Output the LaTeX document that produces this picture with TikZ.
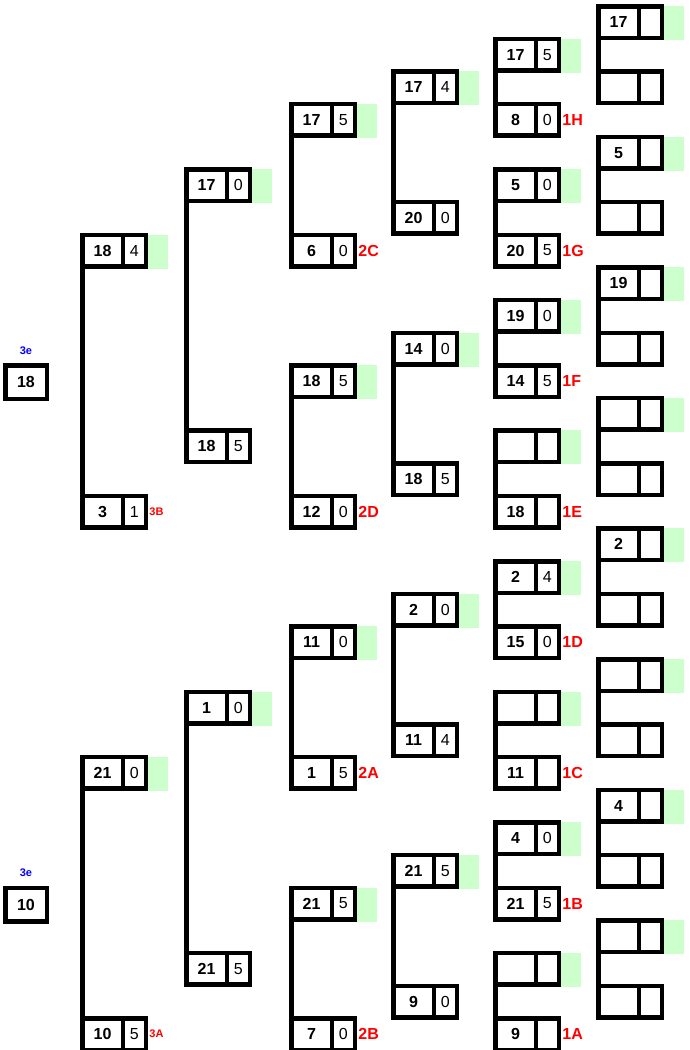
\documentclass[tikz,border=0pt]{standalone}
\usepackage{fontspec}
\setmainfont{Liberation Sans}
\definecolor{lgreen}{HTML}{CCFFCC}
\definecolor{lred}{HTML}{FF0000}
\definecolor{lblue}{HTML}{0000FF}
\tikzset{
 cellL/.style={draw, line width=4.5pt, minimum width=40.75pt, minimum height=31.5pt, inner sep=0pt, outer sep=0pt, anchor=north west, font=\fontsize{16}{19}\selectfont\bfseries},
 cellR/.style={draw, line width=4.5pt, minimum width=22.75pt, minimum height=31.5pt, inner sep=0pt, outer sep=0pt, anchor=north west, font=\fontsize{16}{19}\selectfont},
 cellS/.style={draw, line width=4.5pt, minimum width=41.5pt, minimum height=33.5pt, inner sep=0pt, outer sep=0pt, anchor=north west, font=\fontsize{16}{19}\selectfont\bfseries},
 conn/.style={line width=4.5pt},
 hint/.style={fill=lgreen, draw=none},
 lab/.style={text=lred, font=\fontsize{16}{19}\selectfont\bfseries, anchor=west, inner sep=1pt},
 slab/.style={text=lred, font=\fontsize{11}{13}\selectfont\bfseries, anchor=west, inner sep=1pt},
 blab/.style={text=lblue, font=\fontsize{11}{13}\selectfont\bfseries, inner sep=0pt, anchor=south},
}
\newcommand\mkbox[5]{\node[cellL] (#1) at (#2+2.25,#3+2.25) {#4}; \node[cellR] (#1r) at (#1.north east) {#5};}
\newcommand\mkgreen[2]{\fill[hint] (#1+68,#2+2) rectangle (#1+88,#2+36);}
\begin{document}
\begin{tikzpicture}[x=1pt,y=-1pt]
\useasboundingbox[fill=white] (0,0) rectangle (690,1050);
% green hints
\foreach \yy in {4,134.6,265.2,395.8,526.4,657.0,787.6,918.2} {\mkgreen{596}{\yy}}
\foreach \yy in {36.6,167.2,297.8,428.4,559.0,689.6,820.2,950.8} {\mkgreen{493}{\yy}}
\foreach \yy in {69.3,330.5,591.7,852.9} {\mkgreen{391}{\yy}}
\foreach \yy in {101.9,363.1,624.3,885.5} {\mkgreen{289}{\yy}}
\foreach \yy in {167.2,689.6} {\mkgreen{184}{\yy}}
\foreach \yy in {232.5,754.9} {\mkgreen{80}{\yy}}
% column 6
\mkbox{c6b0}{596}{4}{17}{}
\mkbox{c6b1}{596}{69.3}{}{}
\mkbox{c6b2}{596}{134.6}{5}{}
\mkbox{c6b3}{596}{199.9}{}{}
\mkbox{c6b4}{596}{265.2}{19}{}
\mkbox{c6b5}{596}{330.5}{}{}
\mkbox{c6b6}{596}{395.8}{}{}
\mkbox{c6b7}{596}{461.1}{}{}
\mkbox{c6b8}{596}{526.4}{2}{}
\mkbox{c6b9}{596}{591.7}{}{}
\mkbox{c6b10}{596}{657.0}{}{}
\mkbox{c6b11}{596}{722.3}{}{}
\mkbox{c6b12}{596}{787.6}{4}{}
\mkbox{c6b13}{596}{852.9}{}{}
\mkbox{c6b14}{596}{918.2}{}{}
\mkbox{c6b15}{596}{983.5}{}{}
% column 5
\mkbox{c5b0}{493}{36.6}{17}{5}
\mkbox{c5b1}{493}{101.9}{8}{0}
\mkbox{c5b2}{493}{167.2}{5}{0}
\mkbox{c5b3}{493}{232.5}{20}{5}
\mkbox{c5b4}{493}{297.8}{19}{0}
\mkbox{c5b5}{493}{363.1}{14}{5}
\mkbox{c5b6}{493}{428.4}{}{}
\mkbox{c5b7}{493}{493.7}{18}{}
\mkbox{c5b8}{493}{559.0}{2}{4}
\mkbox{c5b9}{493}{624.3}{15}{0}
\mkbox{c5b10}{493}{689.6}{}{}
\mkbox{c5b11}{493}{754.9}{11}{}
\mkbox{c5b12}{493}{820.2}{4}{0}
\mkbox{c5b13}{493}{885.5}{21}{5}
\mkbox{c5b14}{493}{950.8}{}{}
\mkbox{c5b15}{493}{1016.1}{9}{}
% column 4
\mkbox{c4b0}{391}{69.3}{17}{4}
\mkbox{c4b1}{391}{199.9}{20}{0}
\mkbox{c4b2}{391}{330.5}{14}{0}
\mkbox{c4b3}{391}{461.1}{18}{5}
\mkbox{c4b4}{391}{591.7}{2}{0}
\mkbox{c4b5}{391}{722.3}{11}{4}
\mkbox{c4b6}{391}{852.9}{21}{5}
\mkbox{c4b7}{391}{983.5}{9}{0}
% column 3
\mkbox{c3b0}{289}{101.9}{17}{5}
\mkbox{c3b1}{289}{232.5}{6}{0}
\mkbox{c3b2}{289}{363.1}{18}{5}
\mkbox{c3b3}{289}{493.7}{12}{0}
\mkbox{c3b4}{289}{624.3}{11}{0}
\mkbox{c3b5}{289}{754.9}{1}{5}
\mkbox{c3b6}{289}{885.5}{21}{5}
\mkbox{c3b7}{289}{1016.1}{7}{0}
% column 2
\mkbox{c2b0}{184}{167.2}{17}{0}
\mkbox{c2b1}{184}{428.4}{18}{5}
\mkbox{c2b2}{184}{689.6}{1}{0}
\mkbox{c2b3}{184}{950.8}{21}{5}
% column 1
\mkbox{c1b0}{80}{232.5}{18}{4}
\mkbox{c1b1}{80}{493.7}{3}{1}
\mkbox{c1b2}{80}{754.9}{21}{0}
\mkbox{c1b3}{80}{1016.1}{10}{5}
% column 0
\node[cellS] (c0b0) at (5.25,365.35) {18};
\node[cellS] (c0b1) at (5.25,887.75) {10};
\node[blab] (e0) at ([yshift=11pt]c0b0.north) {3e};
\node[blab] (e1) at ([yshift=11pt]c0b1.north) {3e};
% connectors
\foreach \a/\b in {0/1,2/3,4/5,6/7,8/9,10/11,12/13,14/15} {
  \draw[conn] (c6b\a.south west) -- (c6b\b.north west);
  \draw[conn] (c5b\a.south west) -- (c5b\b.north west);
}
\foreach \a/\b in {0/1,2/3,4/5,6/7} {
  \draw[conn] (c4b\a.south west) -- (c4b\b.north west);
  \draw[conn] (c3b\a.south west) -- (c3b\b.north west);
}
\foreach \a/\b in {0/1,2/3} {
  \draw[conn] (c2b\a.south west) -- (c2b\b.north west);
  \draw[conn] (c1b\a.south west) -- (c1b\b.north west);
}
% labels
\node[lab] (l1H) at ([xshift=2.5pt]c5b1r.east) {1H};
\node[lab] (l1G) at ([xshift=2.5pt]c5b3r.east) {1G};
\node[lab] (l1F) at ([xshift=2.5pt]c5b5r.east) {1F};
\node[lab] (l1E) at ([xshift=2.5pt]c5b7r.east) {1E};
\node[lab] (l1D) at ([xshift=2.5pt]c5b9r.east) {1D};
\node[lab] (l1C) at ([xshift=2.5pt]c5b11r.east) {1C};
\node[lab] (l1B) at ([xshift=2.5pt]c5b13r.east) {1B};
\node[lab] (l1A) at ([xshift=2.5pt]c5b15r.east) {1A};
\node[lab] (l2C) at ([xshift=2.5pt]c3b1r.east) {2C};
\node[lab] (l2D) at ([xshift=2.5pt]c3b3r.east) {2D};
\node[lab] (l2A) at ([xshift=2.5pt]c3b5r.east) {2A};
\node[lab] (l2B) at ([xshift=2.5pt]c3b7r.east) {2B};
\node[slab] (l3B) at ([xshift=2.5pt]c1b1r.east) {3B};
\node[slab] (l3A) at ([xshift=2.5pt]c1b3r.east) {3A};
\end{tikzpicture}
\end{document}
